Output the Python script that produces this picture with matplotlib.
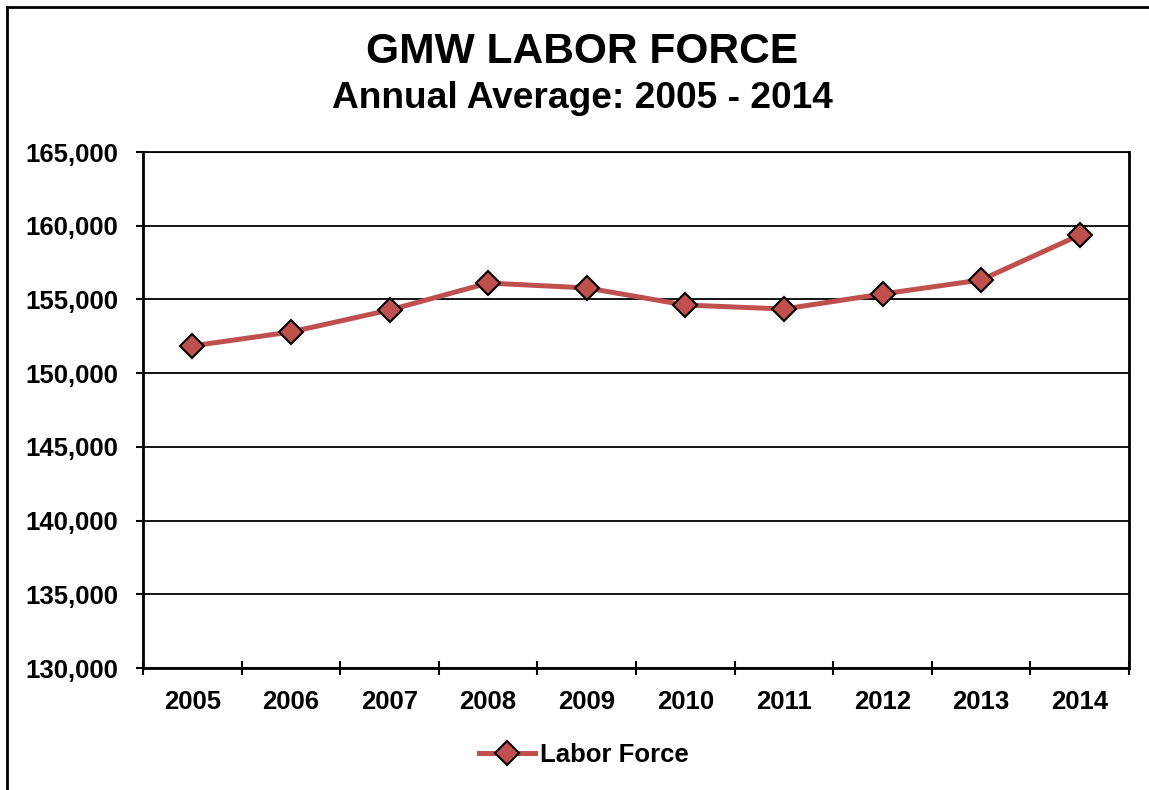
import numpy as np
import matplotlib.pyplot as plt
from matplotlib.lines import Line2D
from matplotlib.ticker import FuncFormatter, MultipleLocator

plt.rcParams['font.family'] = ['Liberation Sans', 'DejaVu Sans']
plt.rcParams['font.weight'] = 'bold'

years = ['2005', '2006', '2007', '2008', '2009', '2010', '2011', '2012', '2013', '2014']
labor_force = [151850, 152790, 154280, 156110, 155780, 154620, 154350, 155370, 156320, 159370]

W, H = 1149, 790
fig = plt.figure(figsize=(W / 100, H / 100), dpi=100)
ax = fig.add_axes([143 / W, 1 - 668 / H, (1129 - 143) / W, (668 - 152) / H])

x = np.arange(len(years))
ax.plot(x, labor_force, color='#C0504D', lw=3.6, marker='D', ms=12,
        mfc='#C0504D', mec='black', mew=1.5, label='Labor Force', zorder=3)

ax.set_xlim(-0.5, len(years) - 0.5)
ax.set_ylim(130000, 165000)
ax.yaxis.set_major_locator(MultipleLocator(5000))
ax.yaxis.set_major_formatter(FuncFormatter(lambda v, p: '{:,.0f}'.format(v)))
ax.grid(axis='y', color='black', lw=1.3, zorder=0)

ax.set_xticks(x)
ax.set_xticklabels(years)
ax.set_xticks(np.arange(len(years) + 1) - 0.5, minor=True)
ax.tick_params(axis='x', which='major', length=0, pad=16, labelsize=18.5)
ax.tick_params(axis='x', which='minor', direction='inout', length=9.5, width=1.5)
ax.tick_params(axis='y', length=5, width=1.5, pad=13, labelsize=18.5)

for s in ['left', 'right', 'bottom']:
    ax.spines[s].set_linewidth(2)
ax.spines['top'].set_linewidth(1.3)

fig.text(582 / W, 1 - 52 / H, 'GMW LABOR FORCE', ha='center', va='center',
         fontsize=30.6, fontweight='bold')
fig.text(582 / W, 1 - 98 / H, 'Annual Average: 2005 - 2014', ha='center', va='center',
         fontsize=26.7, fontweight='bold')

leg = fig.legend(loc='center', bbox_to_anchor=(584 / W, 1 - 755 / H), frameon=False,
                 fontsize=18.5, handlelength=2.2, handletextpad=0.2)

# chart frame (left and top edges only visible)
fig.add_artist(Line2D([7 / W, 1], [1 - 7 / H, 1 - 7 / H], color='black', lw=2,
                      transform=fig.transFigure))
fig.add_artist(Line2D([7 / W, 7 / W], [0, 1 - 7 / H], color='black', lw=2,
                      transform=fig.transFigure))

fig.savefig('out.png', dpi=100)
